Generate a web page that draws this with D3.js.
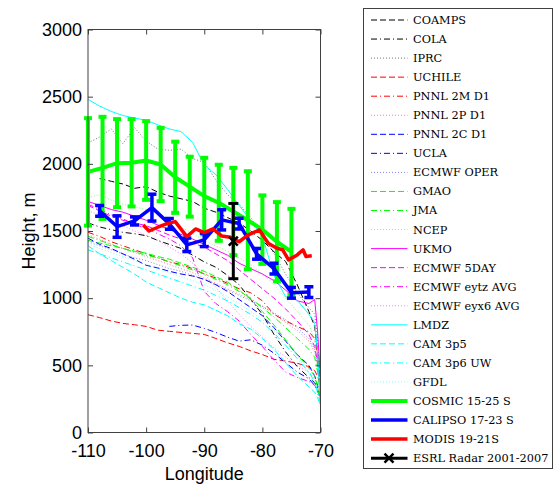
<!DOCTYPE html>
<html>
<head>
<meta charset="utf-8">
<script src="https://cdn.jsdelivr.net/npm/d3@7"></script>
<style>
  body { margin: 0; background: #fff; }
  svg { display: block; }
</style>
</head>
<body>
<div id="chart"></div>
<script>
/*
DATA
*/
// common longitude grid for the model curves
const modelLon = [-110, -108, -106, -104, -102, -100, -98, -96, -94, -92, -90, -88, -86, -84, -82, -80, -78, -76, -74, -72, -71, -70.5, -70];

const coamps   = [null, 1890, 1870, 1850, 1818, 1830, 1790, 1760, 1740, 1720, 1670, 1640, 1600, 1560, 1500, 1430, 1345, 1273, 1100, 900, 790, 600, 250];
const cola     = [1560, 1530, 1510, 1490, 1480, 1465, 1430, 1400, 1370, 1320, 1270, 1230, 1170, 1100, 990, 880, 730, 600, 490, 410, 370, 330, 260];
const iprc     = [2155, 2200, 2260, 2150, 2270, 2170, 2110, 2100, 2110, 2040, 2010, 1880, 1770, 1700, 1600, 1480, 1330, 1180, 1040, 930, 880, 700, 300];
const uchile   = [877, 855, 830, 812, 802, 790, 762, 753, 745, 738, 730, 700, 668, 641, 608, 580, 545, 532, 515, 490, 460, 420, 350];
const pnnl2m   = [1490, 1460, 1420, 1390, 1360, 1330, 1300, 1270, 1250, 1220, 1180, 1150, 1110, 1070, 1040, 980, 880, 830, 790, 750, 700, 580, 380];
const pnnl2p   = [1470, 1440, 1400, 1370, 1340, 1310, 1280, 1250, 1220, 1190, 1150, 1110, 1070, 1030, 990, 940, 880, 820, 760, 680, 600, 500, 330];
const pnnl2c   = [1447, 1400, 1370, 1330, 1290, 1245, 1225, 1200, 1180, 1165, 1140, 1100, 1050, 990, 930, 870, 780, 680, 580, 500, 420, 350, 280];
const ucla     = [null, null, null, null, null, null, null, 790, 798, 800, 775, 745, 710, 680, 690, 650, 590, 520, 450, 400, 350, 310, 250];
const ecmwfOp  = [1420, 1390, 1360, 1330, 1300, 1280, 1250, 1220, 1200, 1170, 1140, 1100, 1060, 1020, 980, 940, 890, 840, 780, 700, 620, 500, 300];
const gmao     = [1430, 1410, 1390, 1370, 1350, 1335, 1310, 1290, 1260, 1230, 1200, 1160, 1120, 1060, 990, 900, 800, 690, 580, 480, 420, 340, 200];
const jma      = [1460, 1430, 1400, 1370, 1345, 1320, 1300, 1270, 1240, 1210, 1180, 1140, 1100, 1050, 1000, 930, 860, 780, 700, 620, 560, 450, 280];
const ncep     = [1750, 1770, 1730, 1700, 1680, 1660, 1630, 1590, 1530, 1480, 1430, 1390, 1350, 1300, 1250, 1180, 1100, 1000, 900, 800, 700, 500, 250];
const ukmo     = [1720, 1690, 1660, 1640, 1610, 1580, 1545, 1510, 1475, 1440, 1400, 1360, 1320, 1260, 1220, 1180, 1130, 1060, 980, 960, 990, 750, 400];
const ecmwf5d  = [1690, 1650, 1610, 1580, 1560, 1540, 1505, 1470, 1440, 1410, 1380, 1330, 1280, 1210, 1140, 1070, 1000, 920, 830, 730, 640, 520, 350];
const eytz     = [1700, 1660, 1620, 1590, 1550, 1520, 1480, 1440, 1390, 1300, 1050, 960, 900, 830, 730, 640, 540, 450, 410, 380, 350, 320, 280];
const eyx6     = [1650, 1620, 1580, 1540, 1500, 1470, 1430, 1380, 1330, 1260, 1180, 1080, 980, 880, 790, 710, 630, 560, 500, 450, 400, 340, 260];
const lmdz     = [2480, 2430, 2390, 2360, 2340, 2325, 2290, 2260, 2240, 2160, 1990, 1920, 1810, 1690, 1580, 1460, 1170, 1010, 985, 880, 820, 600, 200];
const cam3p5   = [1390, 1330, 1280, 1230, 1180, 1120, 1080, 1040, 1000, 970, 950, 910, 870, 810, 770, 700, 620, 520, 420, 340, 300, 260, 200];
const cam3p6   = [1360, 1330, 1300, 1270, 1240, 1210, 1180, 1150, 1120, 1090, 1060, 1020, 980, 930, 880, 820, 740, 650, 550, 450, 380, 300, 220];
const gfdl     = [1400, 1370, 1340, 1310, 1280, 1250, 1220, 1190, 1160, 1130, 1100, 1060, 1010, 960, 900, 840, 760, 680, 570, 440, 360, 280, 180];

// observations
const cosmicLon = [-110, -107.5, -105, -102.5, -100, -97.5, -95, -92.5, -90, -87.5, -85, -82.5, -80, -77.5, -75];
const cosmicH   = [1940, 1970, 2005, 2008, 2025, 1995, 1900, 1830, 1760, 1710, 1645, 1580, 1510, 1420, 1345];
const cosmicErr = [400, 380, 328, 325, 293, 273, 265, 223, 285, 283, 325, 365, 255, 295, 320];

const calipsoLon = [-108, -105, -102, -99, -96, -93, -90, -87, -84, -81, -78, -75, -72];
const calipsoH   = [1650, 1533, 1575, 1674, 1553, 1397, 1434, 1583, 1555, 1330, 1220, 1040, 1045];
const calipsoErr = [40, 80, 30, 100, 40, 50, 50, 75, 40, 40, 40, 40, 40];

const modisLon = [-100.5, -99.5, -98, -96.5, -95, -93, -91.5, -90, -88.5, -87, -85.5, -84, -82.5, -80.5, -79, -77.5, -76.5, -75.5, -74, -73, -72.5, -71.5];
const modisH   = [1545, 1500, 1528, 1553, 1570, 1458, 1515, 1488, 1515, 1463, 1453, 1420, 1470, 1508, 1409, 1372, 1360, 1285, 1322, 1360, 1310, 1315];

const radarLon = [-85];
const radarH   = [1425];
const radarErr = [280];

const xTicks = [-110, -100, -90, -80, -70];
const yTicks = [0, 500, 1000, 1500, 2000, 2500, 3000];

/*
SET UP
*/
const W = 554, H = 486;
const plot = { left: 88, right: 320.5, top: 29.5, bottom: 432.5 };

const svg = d3.select("#chart").append("svg")
  .attr("width", W).attr("height", H);

const x = d3.scaleLinear().domain([-110, -70]).range([plot.left, plot.right]);
const y = d3.scaleLinear().domain([0, 3000]).range([plot.bottom, plot.top]);

const DASH = "6,3", DASHDOT = "6,3,1,3", DOT = "1,2";

// legend order = drawing order
const models = [
  { name: "COAMPS", h: coamps, color: "#000000", dash: DASH },
  { name: "COLA", h: cola, color: "#000000", dash: DASHDOT },
  { name: "IPRC", h: iprc, color: "#000000", dash: DOT, op: 0.55 },
  { name: "UCHILE", h: uchile, color: "#ff0000", dash: DASH },
  { name: "PNNL 2M D1", h: pnnl2m, color: "#ff0000", dash: DASHDOT },
  { name: "PNNL 2P D1", h: pnnl2p, color: "#ff0000", dash: DOT, op: 0.5 },
  { name: "PNNL 2C D1", h: pnnl2c, color: "#0000ff", dash: DASH },
  { name: "UCLA", h: ucla, color: "#0000ff", dash: DASHDOT },
  { name: "ECMWF OPER", h: ecmwfOp, color: "#0000ff", dash: DOT, op: 0.5 },
  { name: "GMAO", h: gmao, color: "#00ff00", dash: DASH },
  { name: "JMA", h: jma, color: "#00ff00", dash: DASHDOT },
  { name: "NCEP", h: ncep, color: "#00ff00", dash: DOT, op: 0.5 },
  { name: "UKMO", h: ukmo, color: "#ff00ff", dash: null },
  { name: "ECMWF 5DAY", h: ecmwf5d, color: "#ff00ff", dash: DASH },
  { name: "ECMWF eytz AVG", h: eytz, color: "#ff00ff", dash: DASHDOT },
  { name: "ECMWF eyx6 AVG", h: eyx6, color: "#ff00ff", dash: DOT, op: 0.5 },
  { name: "LMDZ", h: lmdz, color: "#00ffff", dash: null },
  { name: "CAM 3p5", h: cam3p5, color: "#00ffff", dash: DASH },
  { name: "CAM 3p6 UW", h: cam3p6, color: "#00ffff", dash: DASHDOT },
  { name: "GFDL", h: gfdl, color: "#00ffff", dash: DOT, op: 0.5 }
];

const obs = [
  { name: "COSMIC 15-25 S", lon: cosmicLon, h: cosmicH, err: cosmicErr, color: "#00ff00", w: 4, cap: 8 },
  { name: "CALIPSO 17-23 S", lon: calipsoLon, h: calipsoH, err: calipsoErr, color: "#0000ff", w: 3.5, cap: 9 },
  { name: "MODIS 19-21S", lon: modisLon, h: modisH, err: null, color: "#ff0000", w: 3.5 },
  { name: "ESRL Radar 2001-2007", lon: radarLon, h: radarH, err: radarErr, color: "#000000", w: 3, cap: 10, marker: true }
];

const line = d3.line()
  .defined(d => d[1] != null)
  .x(d => x(d[0]))
  .y(d => y(d[1]));

/*
MODEL CURVES
*/
const gModels = svg.append("g");
models.forEach(mod => {
  gModels.append("path")
    .datum(modelLon.map((lon, i) => [lon, mod.h[i]]))
    .attr("d", line)
    .attr("fill", "none")
    .attr("stroke", mod.color)
    .attr("stroke-width", 1)
    .attr("stroke-opacity", mod.op || 1)
    .attr("stroke-dasharray", mod.dash);
});

/*
OBSERVATIONS + ERROR BARS
*/
function drawX(g, cx, cy, s, color, w) {
  g.append("path")
    .attr("d", `M${cx - s},${cy - s}L${cx + s},${cy + s}M${cx - s},${cy + s}L${cx + s},${cy - s}`)
    .attr("stroke", color).attr("stroke-width", w).attr("fill", "none");
}

const gObs = svg.append("g");
obs.forEach(o => {
  const pts = o.lon.map((lon, i) => [lon, o.h[i]]);
  gObs.append("path")
    .datum(pts)
    .attr("d", line)
    .attr("fill", "none")
    .attr("stroke", o.color)
    .attr("stroke-width", o.w)
    .attr("stroke-linejoin", "round");

  if (o.err) {
    const bars = gObs.selectAll(null)
      .data(pts.map((p, i) => ({ lon: p[0], h: p[1], e: o.err[i] })))
      .join("g");
    bars.append("line")
      .attr("x1", d => x(d.lon)).attr("x2", d => x(d.lon))
      .attr("y1", d => y(d.h - d.e)).attr("y2", d => y(d.h + d.e))
      .attr("stroke", o.color).attr("stroke-width", o.w);
    [-1, 1].forEach(s => {
      bars.append("line")
        .attr("x1", d => x(d.lon) - o.cap / 2).attr("x2", d => x(d.lon) + o.cap / 2)
        .attr("y1", d => y(d.h + s * d.e)).attr("y2", d => y(d.h + s * d.e))
        .attr("stroke", o.color).attr("stroke-width", o.w);
    });
  }
  if (o.marker) {
    pts.forEach(p => drawX(gObs, x(p[0]), y(p[1]), 4.5, o.color, 2.5));
  }
});

/*
AXES
*/
const axisColor = "#404040";
const font = "'Liberation Sans', Arial, Helvetica, sans-serif";
const fmt = d => String(d);

svg.append("rect")
  .attr("x", plot.left).attr("y", plot.top)
  .attr("width", plot.right - plot.left).attr("height", plot.bottom - plot.top)
  .attr("fill", "none").attr("stroke", axisColor).attr("stroke-width", 1);

const xAxis = d3.axisBottom(x).tickValues(xTicks).tickFormat(fmt).tickSizeInner(-5).tickSizeOuter(0).tickPadding(12);
const yAxis = d3.axisLeft(y).tickValues(yTicks).tickFormat(fmt).tickSizeInner(-5).tickSizeOuter(0).tickPadding(6);

const gx = svg.append("g").attr("transform", `translate(0,${plot.bottom})`).call(xAxis);
const gy = svg.append("g").attr("transform", `translate(${plot.left},0)`).call(yAxis);
// mirrored ticks on top and right
svg.append("g").attr("transform", `translate(0,${plot.top})`)
  .call(d3.axisTop(x).tickValues(xTicks).tickSizeInner(-5).tickSizeOuter(0).tickFormat(""));
svg.append("g").attr("transform", `translate(${plot.right},0)`)
  .call(d3.axisRight(y).tickValues(yTicks).tickSizeInner(-5).tickSizeOuter(0).tickFormat(""));

svg.selectAll(".domain").remove();
svg.selectAll(".tick line").attr("stroke", axisColor);
svg.selectAll(".tick text")
  .attr("fill", "#000")
  .style("font-family", font)
  .style("font-size", "18px");
gx.selectAll(".tick text").attr("dy", "0.71em");

svg.append("text")
  .attr("x", (plot.left + plot.right) / 2).attr("y", 480)
  .attr("text-anchor", "middle")
  .style("font-family", font).style("font-size", "18px")
  .text("Longitude");

svg.append("text")
  .attr("transform", `translate(35,231) rotate(-90)`)
  .attr("text-anchor", "middle")
  .style("font-family", font).style("font-size", "18px")
  .text("Height, m");

/*
LEGEND
*/
const leg = { x: 363.5, y: 8.5, w: 189, h: 460, row0: 20, step: 19.05 };
const gLeg = svg.append("g");
gLeg.append("rect")
  .attr("x", leg.x).attr("y", leg.y).attr("width", leg.w).attr("height", leg.h)
  .attr("fill", "#fff").attr("stroke", axisColor).attr("stroke-width", 1);

const entries = models.map(d => ({ name: d.name, color: d.color, dash: d.dash, op: d.op || 1, w: 1 }))
  .concat(obs.map(d => ({ name: d.name, color: d.color, dash: null, op: 1, w: d.w, marker: d.marker })));

const rows = gLeg.selectAll(null).data(entries).join("g")
  .attr("transform", (d, i) => `translate(0,${leg.row0 + i * leg.step})`);
rows.append("line")
  .attr("x1", 371).attr("x2", 407.5)
  .attr("stroke", d => d.color)
  .attr("stroke-width", d => d.w)
  .attr("stroke-opacity", d => d.op)
  .attr("stroke-dasharray", d => d.dash);
rows.filter(d => d.marker).each(function (d) {
  drawX(d3.select(this), 389, 0, 4.5, d.color, 2.5);
});
rows.append("text")
  .attr("x", 413).attr("dy", "0.35em")
  .style("font-family", "'DejaVu Serif', serif")
  .style("font-size", "11.3px")
  .text(d => d.name);
</script>
</body>
</html>
